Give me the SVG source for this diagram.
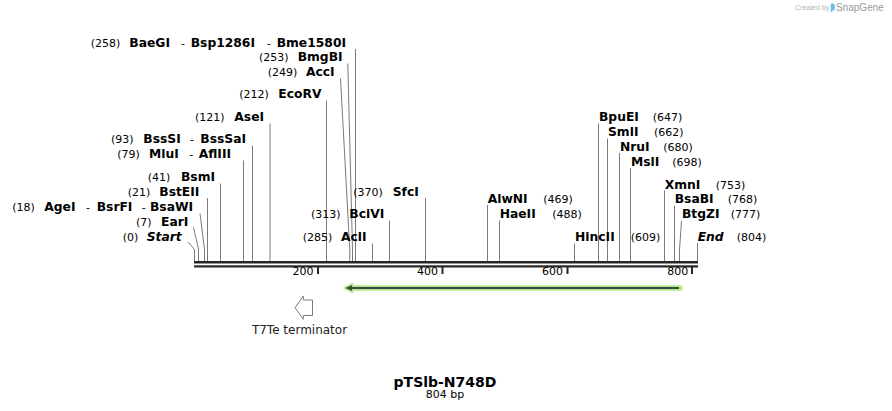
<svg xmlns="http://www.w3.org/2000/svg" width="892" height="411" viewBox="0 0 892 411">
<style>
.n{font-family:"DejaVu Sans",Verdana,sans-serif;font-size:11px;fill:#000}
.e{font-family:"DejaVu Sans",Verdana,sans-serif;font-size:12.3px;font-weight:bold;fill:#000}
.i{font-family:"DejaVu Sans",Verdana,sans-serif;font-size:12.3px;font-weight:bold;font-style:italic;fill:#000}
.ln{stroke:#7a7a7a;stroke-width:1;fill:none}
.bar{fill:#262626}
.tk{fill:#262626}
.tl{font-family:"DejaVu Sans",Verdana,sans-serif;font-size:11px;fill:#000;text-anchor:end}
</style>
<rect width="892" height="411" fill="#fff"/>
<g id="logo">
<text x="795" y="10" style="font-family:'Liberation Sans',Arial,sans-serif;font-size:7px;fill:#b4b4b4">Created by</text>
<path d="M830.8 3.5 h2 a2 2 0 0 1 2 2 v3 a2 2 0 0 1 -2 2 h-0.5 v1.5 h-1.5 z" fill="#6bbbe9"/>
<text x="836" y="11" style="font-family:'Liberation Sans',Arial,sans-serif;font-size:10px;fill:#9a9a9a">SnapGene</text>
</g>
<g id="connectors">
<polyline class="ln" points="188,242 194.5,249.5 194.5,261"/>
<polyline class="ln" points="193.5,227.5 198.5,249 198.5,261"/>
<polyline class="ln" points="200,213.5 204.5,249 204.5,261"/>
<line class="ln" x1="207.5" y1="198" x2="207.5" y2="261"/>
<line class="ln" x1="220.5" y1="183.5" x2="220.5" y2="261"/>
<line class="ln" x1="243.5" y1="160.5" x2="243.5" y2="261"/>
<line class="ln" x1="252.5" y1="145.5" x2="252.5" y2="261"/>
<line class="ln" x1="270" y1="123.5" x2="270" y2="261"/>
<line class="ln" x1="326.5" y1="100.5" x2="326.5" y2="261"/>
<polyline class="ln" points="340.5,78.5 349.8,250 349.8,261"/>
<polyline class="ln" points="347.8,63.5 352.5,250 352.5,261"/>
<line class="ln" x1="355.5" y1="49" x2="355.5" y2="261"/>
<line class="ln" x1="372.5" y1="243.5" x2="372.5" y2="261"/>
<line class="ln" x1="389.5" y1="220.5" x2="389.5" y2="261"/>
<line class="ln" x1="425.5" y1="198" x2="425.5" y2="261"/>
<line class="ln" x1="487.5" y1="205" x2="487.5" y2="261"/>
<line class="ln" x1="499.5" y1="220.5" x2="499.5" y2="261"/>
<line class="ln" x1="574.5" y1="243.5" x2="574.5" y2="261"/>
<line class="ln" x1="598.5" y1="123.5" x2="598.5" y2="261"/>
<line class="ln" x1="607.5" y1="138.5" x2="607.5" y2="261"/>
<line class="ln" x1="619.5" y1="153" x2="619.5" y2="261"/>
<line class="ln" x1="630.5" y1="168" x2="630.5" y2="261"/>
<line class="ln" x1="664.5" y1="190.5" x2="664.5" y2="261"/>
<line class="ln" x1="674.5" y1="205.5" x2="674.5" y2="261"/>
<polyline class="ln" points="681.5,221 679.5,250 679.5,261"/>
<line class="ln" x1="697.5" y1="243" x2="697.5" y2="261"/>
</g>
<g id="sequence">
<rect class="bar" x="194" y="261" width="504" height="2.5"/>
<rect class="bar" x="194" y="265.3" width="504" height="2.2"/>
<rect class="tk" x="317" y="267" width="2" height="7"/>
<rect class="tk" x="441.5" y="267" width="2" height="7"/>
<rect class="tk" x="566.5" y="267" width="2" height="7"/>
<rect class="tk" x="691" y="267" width="2" height="7"/>
<text class="tl" x="313.5" y="275">200</text>
<text class="tl" x="438" y="275">400</text>
<text class="tl" x="563" y="275">600</text>
<text class="tl" x="688.3" y="275">800</text>
</g>
<g id="site-258"><text class="n" x="90.7" y="46.5">(258)</text><text class="e" x="129.3" y="46.5">BaeGI</text><text class="n" x="181" y="46.5">-</text><text class="e" x="190.7" y="46.5">Bsp1286I</text><text class="n" x="266.7" y="46.5">-</text><text class="e" x="276.7" y="46.5">Bme1580I</text></g>
<g id="site-253"><text class="n" x="259" y="61">(253)</text><text class="e" x="297.7" y="61">BmgBI</text></g>
<g id="site-249"><text class="n" x="267.7" y="76">(249)</text><text class="e" x="306" y="76">AccI</text></g>
<g id="site-212"><text class="n" x="239.3" y="98">(212)</text><text class="e" x="278.3" y="98">EcoRV</text></g>
<g id="site-121"><text class="n" x="195" y="121">(121)</text><text class="e" x="234.3" y="121">AseI</text></g>
<g id="site-93"><text class="n" x="111" y="143">(93)</text><text class="e" x="143.3" y="143">BssSI</text><text class="n" x="190" y="143">-</text><text class="e" x="200.3" y="143">BssSaI</text></g>
<g id="site-79"><text class="n" x="117.3" y="158">(79)</text><text class="e" x="149" y="158">MluI</text><text class="n" x="189.3" y="158">-</text><text class="e" x="198.7" y="158">AflIII</text></g>
<g id="site-41"><text class="n" x="147.7" y="181">(41)</text><text class="e" x="181" y="181">BsmI</text></g>
<g id="site-21"><text class="n" x="127.7" y="196">(21)</text><text class="e" x="159.3" y="196">BstEII</text></g>
<g id="site-18"><text class="n" x="12.3" y="211">(18)</text><text class="e" x="44.3" y="211">AgeI</text><text class="n" x="86" y="211">-</text><text class="e" x="96.7" y="211">BsrFI</text><text class="n" x="141.7" y="211">-</text><text class="e" x="150" y="211">BsaWI</text></g>
<g id="site-7"><text class="n" x="136" y="226">(7)</text><text class="e" x="161" y="226">EarI</text></g>
<g id="site-0"><text class="n" x="122.7" y="241">(0)</text><text class="i" x="146.7" y="241">Start</text></g>
<g id="site-370"><text class="n" x="353.3" y="196">(370)</text><text class="e" x="392.7" y="196">SfcI</text></g>
<g id="site-313"><text class="n" x="311" y="218">(313)</text><text class="e" x="349.3" y="218">BciVI</text></g>
<g id="site-285"><text class="n" x="302.7" y="241">(285)</text><text class="e" x="341" y="241">AclI</text></g>
<g id="site-469"><text class="e" x="487.7" y="203">AlwNI</text><text class="n" x="543.3" y="203">(469)</text></g>
<g id="site-488"><text class="e" x="499.7" y="218">HaeII</text><text class="n" x="552.3" y="218">(488)</text></g>
<g id="site-609"><text class="e" x="575" y="241">HincII</text><text class="n" x="630.7" y="241">(609)</text></g>
<g id="site-647"><text class="e" x="599" y="121">BpuEI</text><text class="n" x="652.7" y="121">(647)</text></g>
<g id="site-662"><text class="e" x="608" y="136">SmlI</text><text class="n" x="654" y="136">(662)</text></g>
<g id="site-680"><text class="e" x="620" y="151">NruI</text><text class="n" x="663.3" y="151">(680)</text></g>
<g id="site-698"><text class="e" x="631" y="166">MslI</text><text class="n" x="672.3" y="166">(698)</text></g>
<g id="site-753"><text class="e" x="664.7" y="188.5">XmnI</text><text class="n" x="715.7" y="188.5">(753)</text></g>
<g id="site-768"><text class="e" x="674.7" y="203">BsaBI</text><text class="n" x="727.7" y="203">(768)</text></g>
<g id="site-777"><text class="e" x="682" y="218">BtgZI</text><text class="n" x="730.7" y="218">(777)</text></g>
<g id="site-804"><text class="i" x="697.7" y="241">End</text><text class="n" x="736.7" y="241">(804)</text></g>
<g id="feature-orf">
<path d="M345 288 L352 284.5 L352 286.8 L681 286.8 L681 289.2 L352 289.2 L352 291.5 Z" fill="#b2ea8e" stroke="#b2ea8e" stroke-width="3" stroke-linejoin="round"/>
<line x1="350" y1="288" x2="679" y2="288" stroke="#3e4a3e" stroke-width="2"/>
<polygon points="345.5,288 352,285 352,291" fill="#3e4a3e"/>
</g>
<g id="feature-t7te">
<polygon points="295,307.7 303.3,296 303.3,300 312.5,300 312.5,315.5 303.3,315.5 303.3,319.3" fill="#fff" stroke="#7a7a7a" stroke-width="1"/>
<text x="299.5" y="333.5" text-anchor="middle" style="font-family:'DejaVu Sans',Verdana,sans-serif;font-size:12px;fill:#222">T7Te terminator</text>
</g>
<g id="title">
<text x="445" y="386.5" text-anchor="middle" style="font-family:'DejaVu Sans',Verdana,sans-serif;font-size:14px;font-weight:bold;fill:#000">pTSlb-N748D</text>
<text x="445" y="398" text-anchor="middle" style="font-family:'DejaVu Sans',Verdana,sans-serif;font-size:11px;fill:#000">804 bp</text>
</g>
</svg>
